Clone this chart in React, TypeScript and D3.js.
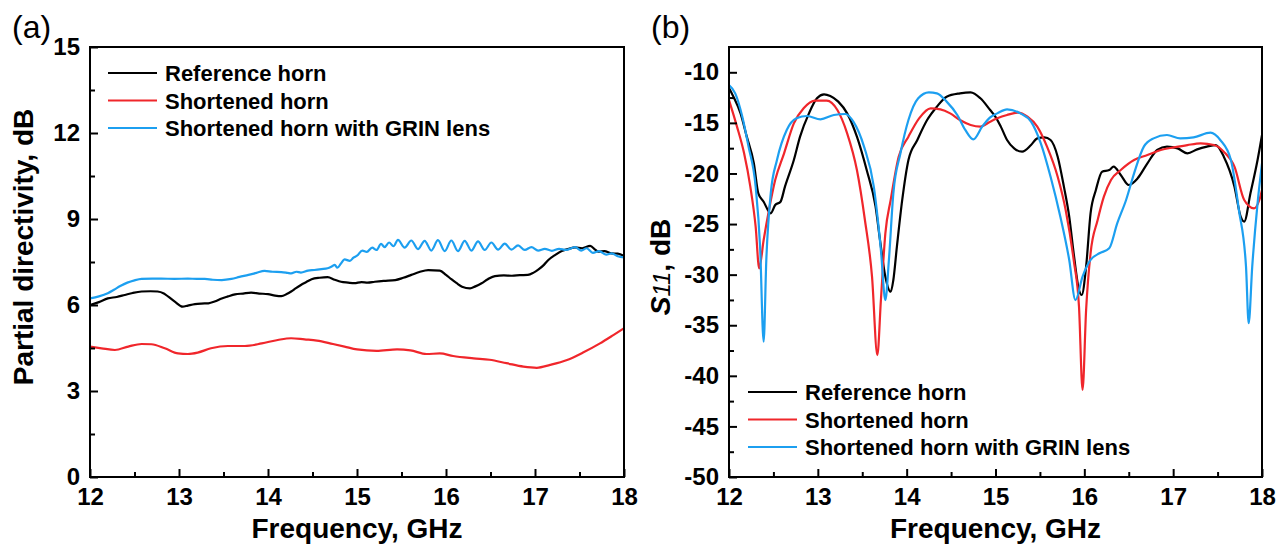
import * as d3 from 'd3';
import { useRef, useEffect } from 'react';

type Pt = [number, number];

// legend names and tick values
const seriesNames = ['Reference horn', 'Shortened horn', 'Shortened horn with GRIN lens'];
const freqTicks = [12, 13, 14, 15, 16, 17, 18];
const directivityTicks = [0, 3, 6, 9, 12, 15];
const s11Ticks = [-50, -45, -40, -35, -30, -25, -20, -15, -10];

// (a) partial directivity, dB  [GHz, dB]
const dirReference: Pt[] = [
  [12.0, 6.0], [12.1, 6.1], [12.2, 6.23], [12.3, 6.28], [12.39, 6.35], [12.48, 6.42], [12.58, 6.47],
  [12.68, 6.48], [12.76, 6.47], [12.83, 6.4], [12.88, 6.29], [12.96, 6.1], [13.04, 5.94], [13.1, 5.98],
  [13.18, 6.03], [13.25, 6.05], [13.33, 6.06], [13.4, 6.12], [13.48, 6.23], [13.55, 6.3], [13.63, 6.37],
  [13.72, 6.4], [13.81, 6.43], [13.9, 6.4], [14.0, 6.38], [14.08, 6.33], [14.15, 6.31], [14.21, 6.38],
  [14.26, 6.47], [14.31, 6.58], [14.37, 6.7], [14.43, 6.8], [14.49, 6.9], [14.58, 6.95], [14.67, 6.97],
  [14.75, 6.88], [14.82, 6.81], [14.9, 6.78], [14.97, 6.76], [15.05, 6.8], [15.12, 6.78], [15.2, 6.81],
  [15.3, 6.84], [15.43, 6.87], [15.52, 6.95], [15.61, 7.05], [15.7, 7.15], [15.8, 7.22], [15.93, 7.2],
  [16.0, 7.05], [16.06, 6.9], [16.12, 6.76], [16.18, 6.64], [16.27, 6.58], [16.33, 6.65], [16.4, 6.76],
  [16.47, 6.9], [16.55, 7.01], [16.65, 7.03], [16.74, 7.02], [16.83, 7.04], [16.92, 7.05], [16.98, 7.12],
  [17.04, 7.24], [17.1, 7.4], [17.15, 7.57], [17.22, 7.73], [17.3, 7.88], [17.38, 7.96], [17.45, 8.01],
  [17.53, 7.98], [17.62, 8.06], [17.68, 7.92], [17.71, 7.86], [17.78, 7.88], [17.86, 7.8], [17.93, 7.79],
  [18.0, 7.71],
];
const dirShortened: Pt[] = [
  [12.0, 4.55], [12.13, 4.49], [12.28, 4.43], [12.43, 4.55], [12.58, 4.64], [12.69, 4.63], [12.84, 4.49],
  [12.99, 4.31], [13.1, 4.29], [13.21, 4.34], [13.36, 4.49], [13.55, 4.57], [13.74, 4.57], [13.93, 4.66],
  [14.11, 4.78], [14.26, 4.84], [14.41, 4.8], [14.55, 4.76], [14.73, 4.64], [14.86, 4.55], [15.0, 4.45],
  [15.22, 4.4], [15.45, 4.45], [15.6, 4.42], [15.78, 4.29], [15.93, 4.31], [16.08, 4.22], [16.31, 4.14],
  [16.49, 4.09], [16.68, 3.97], [16.87, 3.85], [17.02, 3.81], [17.17, 3.91], [17.36, 4.08], [17.54, 4.34],
  [17.73, 4.66], [17.88, 4.95], [18.0, 5.19],
];
const dirGrin: Pt[] = [
  [12.0, 6.23], [12.1, 6.3], [12.2, 6.41], [12.27, 6.53], [12.34, 6.66], [12.42, 6.78], [12.5, 6.86],
  [12.58, 6.91], [12.7, 6.92], [12.8, 6.92], [12.95, 6.91], [13.1, 6.92], [13.2, 6.91], [13.29, 6.91],
  [13.38, 6.88], [13.48, 6.87], [13.59, 6.91], [13.68, 6.98], [13.78, 7.05], [13.87, 7.12], [13.96, 7.19],
  [14.05, 7.16], [14.15, 7.15], [14.22, 7.12], [14.26, 7.1], [14.32, 7.16], [14.37, 7.13], [14.45, 7.2],
  [14.52, 7.22], [14.6, 7.25], [14.67, 7.28], [14.72, 7.35], [14.75, 7.4], [14.78, 7.3], [14.82, 7.45],
  [14.86, 7.59], [14.92, 7.54], [14.96, 7.65], [15.0, 7.72], [15.06, 7.9], [15.11, 7.85], [15.17, 8.0],
  [15.22, 7.92], [15.27, 8.13], [15.31, 8.02], [15.36, 8.18], [15.41, 8.05], [15.46, 8.27], [15.535, 8.0],
  [15.61, 8.25], [15.685, 7.95], [15.76, 8.24], [15.835, 7.9], [15.91, 8.26], [15.985, 7.88], [16.06, 8.25],
  [16.135, 7.88], [16.21, 8.24], [16.285, 7.9], [16.36, 8.22], [16.435, 7.92], [16.51, 8.18], [16.585, 7.93],
  [16.66, 8.14], [16.735, 7.93], [16.81, 8.08], [16.885, 7.92], [16.96, 8.02], [17.035, 7.9], [17.11, 7.96],
  [17.19, 7.89], [17.27, 7.96], [17.35, 7.92], [17.45, 8.02], [17.52, 7.9], [17.58, 7.98], [17.65, 7.82],
  [17.72, 7.88], [17.8, 7.76], [17.86, 7.8], [17.93, 7.7], [18.0, 7.66],
];

// (b) S11, dB  [GHz, dB]
const s11Reference: Pt[] = [
  [12.0, -11.55], [12.05, -12.41], [12.13, -14.06], [12.2, -16.36], [12.28, -19.0], [12.33, -21.96],
  [12.39, -22.79], [12.45, -23.78], [12.47, -23.94], [12.52, -23.12], [12.58, -22.79], [12.63, -21.3],
  [12.73, -18.67], [12.8, -16.36], [12.9, -14.06], [12.99, -12.57], [13.07, -12.18], [13.14, -12.34],
  [13.23, -12.9], [13.33, -14.06], [13.44, -16.36], [13.55, -19.66], [13.65, -23.28], [13.7, -26.58],
  [13.76, -30.2], [13.82, -31.69], [13.85, -30.53], [13.89, -27.24], [13.95, -22.62], [14.02, -18.67],
  [14.12, -16.69], [14.23, -14.72], [14.34, -13.4], [14.45, -12.41], [14.6, -12.08], [14.72, -11.98],
  [14.83, -12.57], [14.94, -13.73], [15.0, -14.4], [15.06, -15.37], [15.13, -16.69], [15.21, -17.52],
  [15.3, -17.85], [15.4, -17.19], [15.47, -16.53], [15.55, -16.43], [15.62, -16.69], [15.7, -18.34],
  [15.77, -21.3], [15.83, -24.27], [15.88, -27.89], [15.94, -31.52], [15.97, -32.01], [16.02, -29.21],
  [16.07, -23.94], [16.13, -21.63], [16.2, -19.82], [16.28, -19.66], [16.33, -19.33], [16.41, -20.15],
  [16.5, -21.14], [16.6, -20.48], [16.71, -19.0], [16.82, -17.68], [16.93, -17.35], [17.05, -17.52],
  [17.16, -18.01], [17.27, -17.62], [17.38, -17.35], [17.48, -17.19], [17.57, -18.34], [17.69, -21.3],
  [17.76, -24.27], [17.8, -24.76], [17.87, -21.96], [17.95, -18.67], [18.0, -16.2],
];
const s11Shortened: Pt[] = [
  [12.0, -12.74], [12.09, -15.37], [12.17, -18.01], [12.24, -21.3], [12.3, -25.26], [12.34, -29.38],
  [12.39, -26.58], [12.45, -23.61], [12.52, -20.65], [12.62, -18.01], [12.73, -15.05], [12.84, -13.56],
  [12.97, -12.8], [13.1, -12.8], [13.22, -13.73], [13.33, -16.03], [13.44, -19.66], [13.53, -24.6],
  [13.61, -30.2], [13.67, -37.95], [13.71, -32.51], [13.76, -25.92], [13.82, -22.62], [13.91, -18.34],
  [14.02, -16.36], [14.14, -14.55], [14.27, -13.56], [14.38, -13.66], [14.49, -14.06], [14.6, -14.72],
  [14.72, -15.21], [14.83, -15.37], [14.94, -14.88], [15.02, -14.55], [15.13, -14.22], [15.25, -13.99],
  [15.36, -14.39], [15.47, -15.37], [15.58, -17.35], [15.7, -20.32], [15.79, -23.61], [15.88, -28.55],
  [15.94, -33.17], [15.98, -41.4], [16.02, -33.5], [16.07, -27.89], [16.15, -24.6], [16.22, -22.29],
  [16.3, -20.65], [16.41, -19.66], [16.56, -18.67], [16.71, -18.18], [16.86, -17.68], [17.01, -17.42],
  [17.16, -17.19], [17.31, -17.02], [17.46, -17.19], [17.57, -17.85], [17.69, -19.33], [17.8, -22.62],
  [17.91, -23.45], [17.97, -22.62], [18.0, -21.63],
];
const s11Grin: Pt[] = [
  [12.0, -11.26], [12.07, -12.08], [12.15, -14.39], [12.22, -17.35], [12.3, -21.3], [12.35, -27.24],
  [12.39, -36.63], [12.42, -28.55], [12.47, -21.96], [12.54, -18.67], [12.65, -15.7], [12.76, -14.55],
  [12.88, -14.32], [13.03, -14.65], [13.18, -14.22], [13.31, -14.12], [13.4, -14.88], [13.52, -17.35],
  [13.63, -21.3], [13.71, -27.57], [13.76, -32.51], [13.8, -28.55], [13.85, -21.96], [13.93, -18.01],
  [14.02, -14.72], [14.13, -12.57], [14.25, -11.98], [14.34, -12.08], [14.45, -12.9], [14.57, -14.22],
  [14.66, -15.7], [14.75, -16.63], [14.85, -15.37], [14.94, -14.45], [15.02, -14.06], [15.13, -13.66],
  [15.28, -14.06], [15.4, -14.88], [15.51, -17.02], [15.62, -20.32], [15.73, -24.27], [15.83, -28.55],
  [15.9, -32.51], [15.98, -30.2], [16.07, -28.55], [16.17, -27.89], [16.28, -27.4], [16.37, -24.93],
  [16.47, -22.62], [16.56, -19.99], [16.67, -17.35], [16.78, -16.53], [16.93, -16.2], [17.08, -16.53],
  [17.23, -16.43], [17.42, -15.97], [17.53, -16.69], [17.65, -18.67], [17.74, -23.61], [17.82, -29.21],
  [17.85, -34.8], [17.89, -29.21], [17.95, -22.95], [18.0, -19.0],
];

const COLORS = ['#000000', '#f0262b', '#1c9ff0'];
const FONT = '"Liberation Sans", Arial, Helvetica, sans-serif';

interface PanelOpts {
  left: number; right: number; top: number; bottom: number;
  yDomain: [number, number];
  yTicks: number[];
  yMinor: number[];
  series: Pt[][];
  tag: string;
  legendX: number; legendY: number;
}

// plain hyphen for negatives, like the original
const fmt = (d: d3.NumberValue) => String(d);

function drawPanel(svg: d3.Selection<SVGSVGElement, unknown, null, undefined>, o: PanelOpts) {
  const x = d3.scaleLinear().domain([12, 18]).range([o.left, o.right]);
  const y = d3.scaleLinear().domain(o.yDomain).range([o.bottom, o.top]);
  const xMinor = d3.range(12.5, 18, 1);

  const g = svg.append('g');

  // curves
  const line = d3.line<Pt>().x(d => x(d[0])).y(d => y(d[1])).curve(d3.curveMonotoneX);
  o.series.forEach((s, i) => {
    g.append('path').datum(s).attr('d', line).attr('fill', 'none')
      .attr('stroke', COLORS[i]).attr('stroke-width', 2.2).attr('stroke-linejoin', 'round');
  });

  // axes, ticks pointing inward
  const xAxis = g.append('g').attr('transform', `translate(0,${o.bottom})`)
    .call(d3.axisBottom(x).tickValues(freqTicks).tickSizeInner(-8).tickSizeOuter(0).tickPadding(11).tickFormat(fmt));
  g.append('g').attr('transform', `translate(0,${o.bottom})`)
    .call(d3.axisBottom(x).tickValues(xMinor).tickSizeInner(-5).tickSizeOuter(0).tickFormat(() => ''));
  const yAxis = g.append('g').attr('transform', `translate(${o.left},0)`)
    .call(d3.axisLeft(y).tickValues(o.yTicks).tickSizeInner(-8).tickSizeOuter(0).tickPadding(10).tickFormat(fmt));
  g.append('g').attr('transform', `translate(${o.left},0)`)
    .call(d3.axisLeft(y).tickValues(o.yMinor).tickSizeInner(-5).tickSizeOuter(0).tickFormat(() => ''));

  g.selectAll('.domain').remove();
  g.selectAll('.tick line').attr('stroke', '#000').attr('stroke-width', 2);
  [xAxis, yAxis].forEach(a => a.selectAll('text')
    .attr('font-family', FONT).attr('font-size', 24).attr('font-weight', 'bold').attr('fill', '#000'));

  // frame
  g.append('rect').attr('x', o.left).attr('y', o.top)
    .attr('width', o.right - o.left).attr('height', o.bottom - o.top)
    .attr('fill', 'none').attr('stroke', '#000').attr('stroke-width', 2);

  // x title
  g.append('text').attr('x', (o.left + o.right) / 2).attr('y', 538).attr('text-anchor', 'middle')
    .attr('font-family', FONT).attr('font-size', 28).attr('font-weight', 'bold').text('Frequency, GHz');

  // panel tag
  g.append('text').attr('x', o.left - 78).attr('y', 38)
    .attr('font-family', FONT).attr('font-size', 32).text(o.tag);

  // legend
  seriesNames.forEach((name, i) => {
    const ly = o.legendY + i * 27.5;
    g.append('line').attr('x1', o.legendX).attr('x2', o.legendX + 49).attr('y1', ly).attr('y2', ly)
      .attr('stroke', COLORS[i]).attr('stroke-width', 2.2);
    g.append('text').attr('x', o.legendX + 57).attr('y', ly + 8)
      .attr('font-family', FONT).attr('font-size', 22).attr('font-weight', 'bold').text(name);
  });
  return g;
}

const App = () => {
  const svgRef = useRef<SVGSVGElement | null>(null);

  useEffect(() => {
    const svg = d3.select(svgRef.current!);
    svg.selectAll('*').remove();
    svg.append('rect').attr('width', 1282).attr('height', 546).attr('fill', '#fff');

    const a = drawPanel(svg, {
      left: 90, right: 624, top: 47, bottom: 477,
      yDomain: [0, 15], yTicks: directivityTicks, yMinor: d3.range(1.5, 15, 3),
      series: [dirReference, dirShortened, dirGrin],
      tag: '(a)', legendX: 108, legendY: 73,
    });
    a.append('text').attr('transform', 'translate(33,247) rotate(-90)').attr('text-anchor', 'middle')
      .attr('font-family', FONT).attr('font-size', 28).attr('font-weight', 'bold')
      .text('Partial directivity, dB');

    const b = drawPanel(svg, {
      left: 729, right: 1262, top: 47, bottom: 477,
      yDomain: [-50, -7.5], yTicks: s11Ticks, yMinor: d3.range(-47.5, -7.5, 5),
      series: [s11Reference, s11Shortened, s11Grin],
      tag: '(b)', legendX: 748, legendY: 392,
    });
    const t = b.append('text').attr('transform', 'translate(670,267) rotate(-90)').attr('text-anchor', 'middle')
      .attr('font-family', FONT).attr('font-size', 28).attr('font-weight', 'bold');
    t.append('tspan').attr('font-style', 'italic').text('S');
    t.append('tspan').attr('font-style', 'italic').attr('font-weight', 'normal').attr('font-size', 24).text('11');
    t.append('tspan').text(', dB');
  }, []);

  return (
    <svg ref={svgRef} width={1282} height={546}
      style={{ position: 'absolute', left: 0, top: 0, display: 'block' }} />
  );
};

export default App;
